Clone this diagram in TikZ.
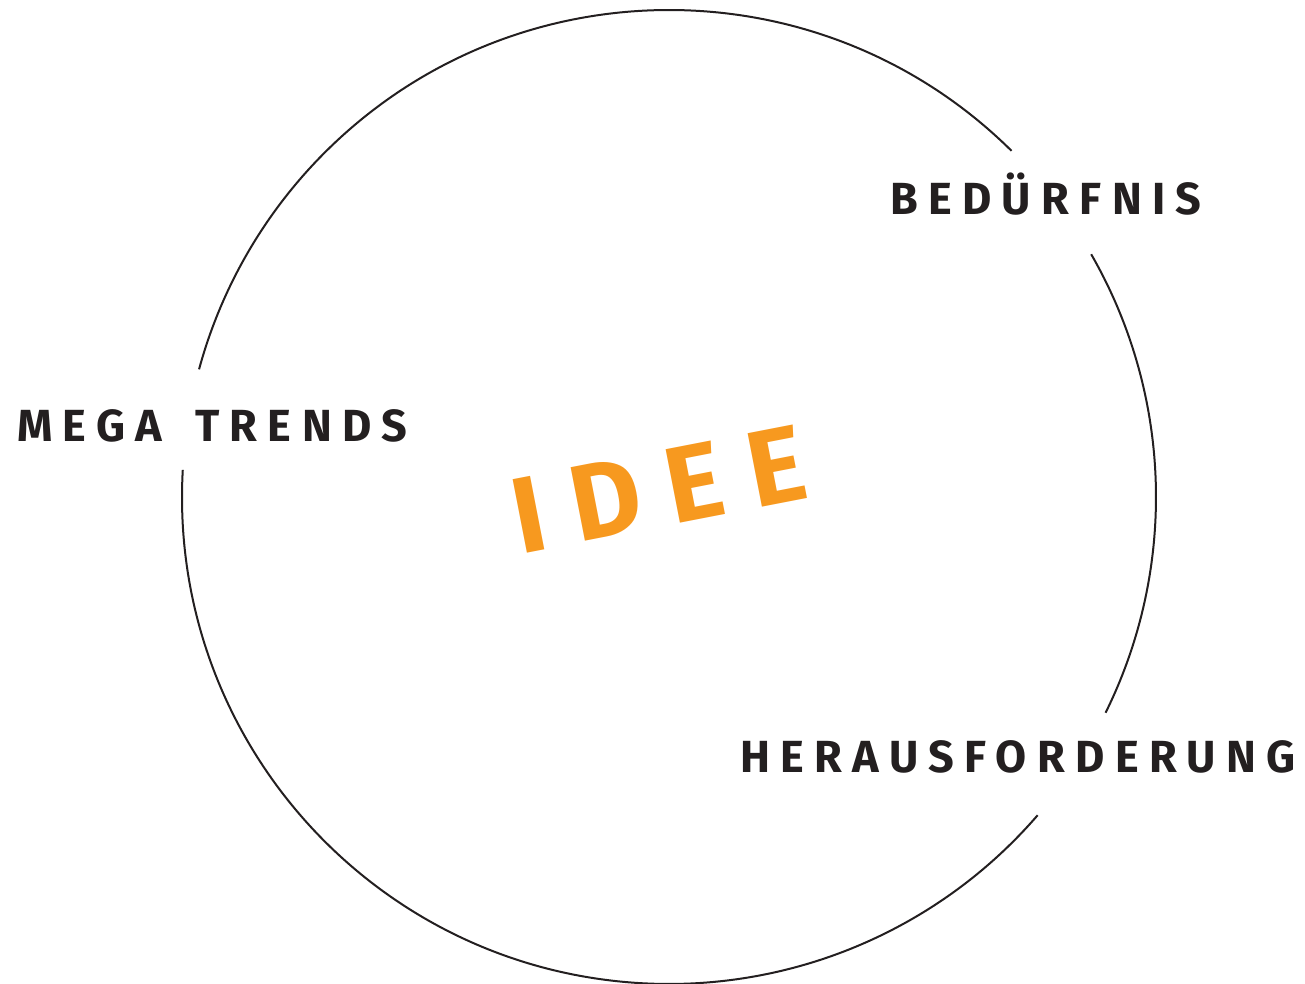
\documentclass[tikz,border=0pt]{standalone}
\usepackage{fontspec}
\setmainfont{Fira Sans}
\newfontfamily\labelfont[LetterSpace=23]{Fira Sans Bold}
\newfontfamily\ideefont[LetterSpace=25]{Fira Sans Bold}
\usetikzlibrary{calc}
\definecolor{ink}{HTML}{231F20}
\definecolor{ideeorange}{HTML}{F7991F}
\tikzset{
  ring/.style={draw=ink, line width=2pt},
  label/.style={font=\labelfont\fontsize{45}{50}\selectfont, text=ink, inner sep=0pt, anchor=base west},
  centre/.style={font=\ideefont\fontsize{108}{120}\selectfont, text=ideeorange, inner sep=0pt, rotate=11}
}
\begin{document}
\begin{tikzpicture}[x=1pt,y=1pt]
  \useasboundingbox (0,0) rectangle (1305,984);
  \coordinate (c) at (669,487);
  % ring, broken where the three labels cross it
  \draw[ring] ($(c)+(45.3:487)$) arc[start angle=45.3, end angle=164.8, radius=487];
  \draw[ring] ($(c)+(176.8:487)$) arc[start angle=176.8, end angle=319.2, radius=487];
  \draw[ring] ($(c)+(-26.3:487)$) arc[start angle=-26.3, end angle=29.9, radius=487];
  % labels
  \node[label] (need) at (890,769) {BEDÜRFNIS};
  \node[label] (trends) at (17,542) {MEGA\hspace{12pt} TRENDS};
  \node[label] (challenge) at (740,211) {HERAUSFORDERUNG\kern-4pt};
  \node[centre] (idea) at (659,495) {IDEE};
\end{tikzpicture}
\end{document}
